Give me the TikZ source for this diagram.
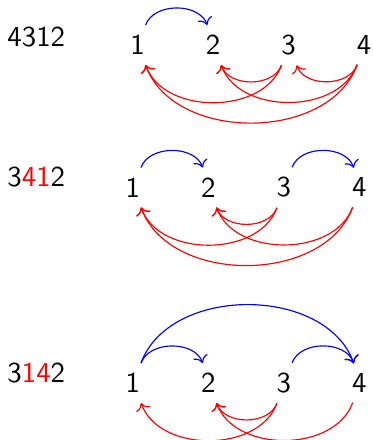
\documentclass[tikz,border=0pt]{standalone}
\usepackage{tikz}
\usetikzlibrary{arrows.meta, positioning}

\begin{document}
\begin{tikzpicture}[x=0.92cm, y=0.92cm, every node/.style={font=\sffamily},
  fwd/.style={blue, ->, bend left=70},
  bwd/.style={red, ->, bend left=70}]
  \useasboundingbox (-1.821,-5.232) rectangle (3.119,0.596);

  % 4312
  \node (la) at (-1.34,0.11) {4312};
  \node (a1) at (0,0) {1};
  \node (a2) at (1,0) {2};
  \node (a3) at (2,0) {3};
  \node (a4) at (3,0) {4};

  \draw[fwd] (a1.68) to (a2.106);
  \draw[bwd] (a3.-109) to (a2.-68);
  \draw[bwd] (a4.-109) to (a3.-68);
  \draw[bwd] (a3.-109) to (a1.-68);
  \draw[bwd] (a4.-109) to (a2.-68);
  \draw[bwd] (a4.-109) to (a1.-68);

  % 3412
  \node (lb) at (-1.34,-1.75) {3{\color{red}41}2};
  \node (b1) at (-0.06,-1.887) {1};
  \node (b2) at (0.94,-1.887) {2};
  \node (b3) at (1.94,-1.887) {3};
  \node (b4) at (2.94,-1.887) {4};

  \draw[fwd] (b1.68) to (b2.106);
  \draw[fwd] (b3.68) to (b4.106);
  \draw[bwd] (b3.-109) to (b2.-68);
  \draw[bwd] (b3.-109) to (b1.-68);
  \draw[bwd] (b4.-109) to (b2.-68);
  \draw[bwd] (b4.-109) to (b1.-68);

  % 3142
  \node (lc) at (-1.34,-4.34) {3{\color{red}14}2};
  \node (c1) at (-0.06,-4.477) {1};
  \node (c2) at (0.94,-4.477) {2};
  \node (c3) at (1.94,-4.477) {3};
  \node (c4) at (2.94,-4.477) {4};

  \draw[fwd] (c1.68) to (c2.106);
  \draw[fwd] (c1.68) to (c4.106);
  \draw[fwd] (c3.68) to (c4.106);
  \draw[bwd] (c3.-109) to (c2.-68);
  \draw[bwd] (c3.-109) to (c1.-68);
  \draw[bwd] (c4.-109) to (c2.-68);
\end{tikzpicture}
\end{document}
